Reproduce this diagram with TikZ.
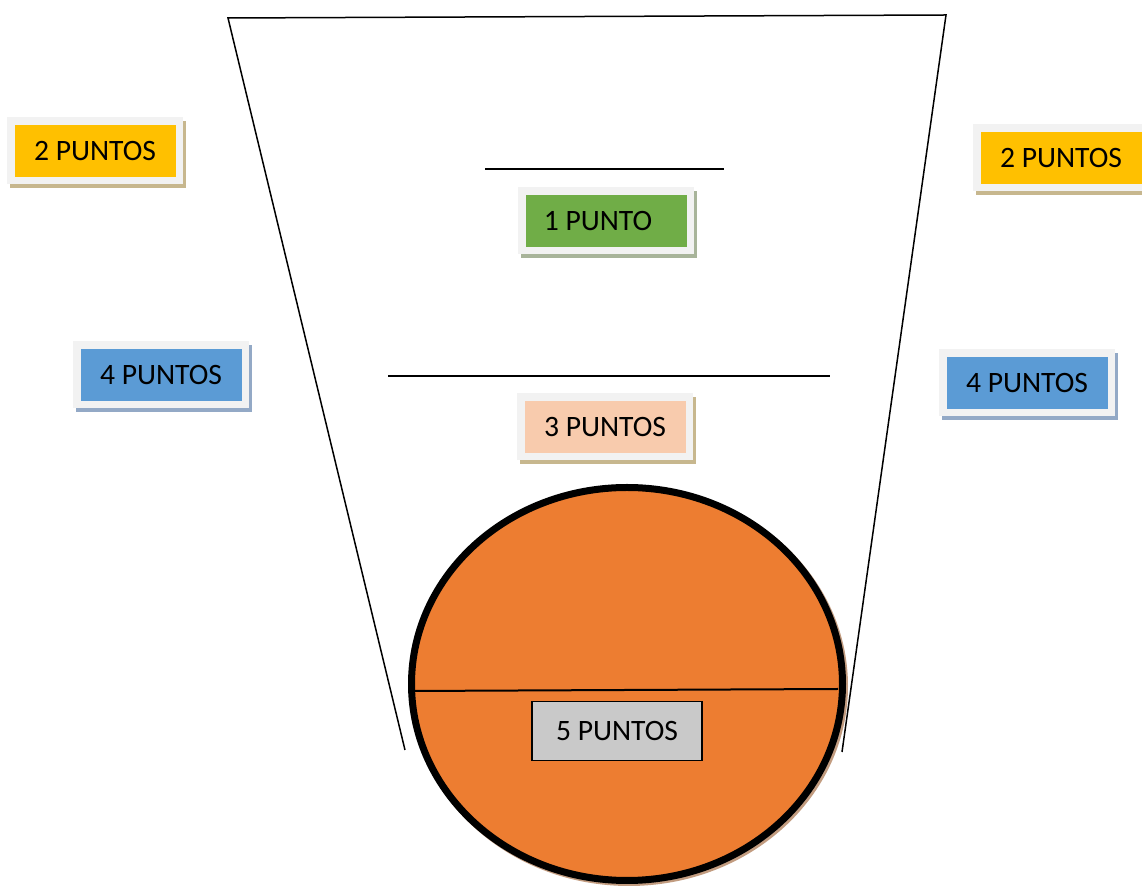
\documentclass[tikz,border=0pt]{standalone}
\usepackage{fontspec}
\setmainfont{Carlito}
\usepackage{tikz}
\usetikzlibrary{shadows}
\usetikzlibrary{calc}

\definecolor{marco}{HTML}{F2F2F2}
\definecolor{amarillo}{HTML}{FFC000}
\definecolor{verde}{HTML}{70AD47}
\definecolor{salmon}{HTML}{F8CBAD}
\definecolor{azul}{HTML}{5B9BD5}
\definecolor{naranja}{HTML}{ED7D31}
\definecolor{gris}{HTML}{C9C9C9}
\definecolor{sombraamarilla}{HTML}{C7B78E}
\definecolor{sombraverde}{HTML}{A8B49A}
\definecolor{sombraazul}{HTML}{93A9C6}
\definecolor{sombranaranja}{HTML}{C29C80}

\tikzset{
    puntos/.style 2 args={fill=marco, minimum width=88pt, minimum height=33.5pt, inner sep=0pt,
        font=\fontsize{14.8}{17}\selectfont,
        general shadow={fill=#2, shadow xshift=1.5pt, shadow yshift=-2pt},
        path picture={\fill[#1] ([shift={(3.75pt,3.75pt)}]path picture bounding box.south west)
            rectangle ([shift={(-3.75pt,-3.75pt)}]path picture bounding box.north east);}},
    raya/.style={line width=0.75pt}
}

\begin{document}
\begin{tikzpicture}[x=0.5pt, y=-0.5pt]
                    \useasboundingbox (0, 0) rectangle (1142, 886);

                    \draw[raya] (405, 750) -- (228, 18) -- (946, 15) -- (842, 752);
                    \draw[raya] (485, 169) -- (724, 169);
                    \draw[raya] (388, 376) -- (830, 376);

                    \draw[sombranaranja, line width=3.5pt] (629, 686) ellipse (215.5 and 196.5);
                    \filldraw[fill=naranja, line width=3.5pt] (627, 684) ellipse (215.5 and 196.5);
                    \draw[line width=1pt] (413, 691) -- (838, 689);

                    \node[puntos={amarillo}{sombraamarilla}] (dosizq) at (95, 151) {2 PUNTOS};
                    \node[puntos={amarillo}{sombraamarilla}] (dosder) at (1061, 158) {2 PUNTOS};
                    \node[puntos={verde}{sombraverde}] (uno) at (606, 221) {\hspace*{-8pt}1 PUNTO};
                    \node[puntos={azul}{sombraazul}] (cuatroizq) at (161, 375) {4 PUNTOS};
                    \node[puntos={azul}{sombraazul}] (cuatroder) at (1027, 383) {4 PUNTOS};
                    \node[puntos={salmon}{sombraamarilla}] (tres) at (605, 427) {3 PUNTOS};

                    \node[draw, fill=gris, line width=0.75pt, minimum width=85pt, minimum height=29.5pt,
                          inner sep=0pt, font=\fontsize{14.8}{17}\selectfont] (cinco) at (617, 731) {5 PUNTOS};
                \end{tikzpicture}
\end{document}
